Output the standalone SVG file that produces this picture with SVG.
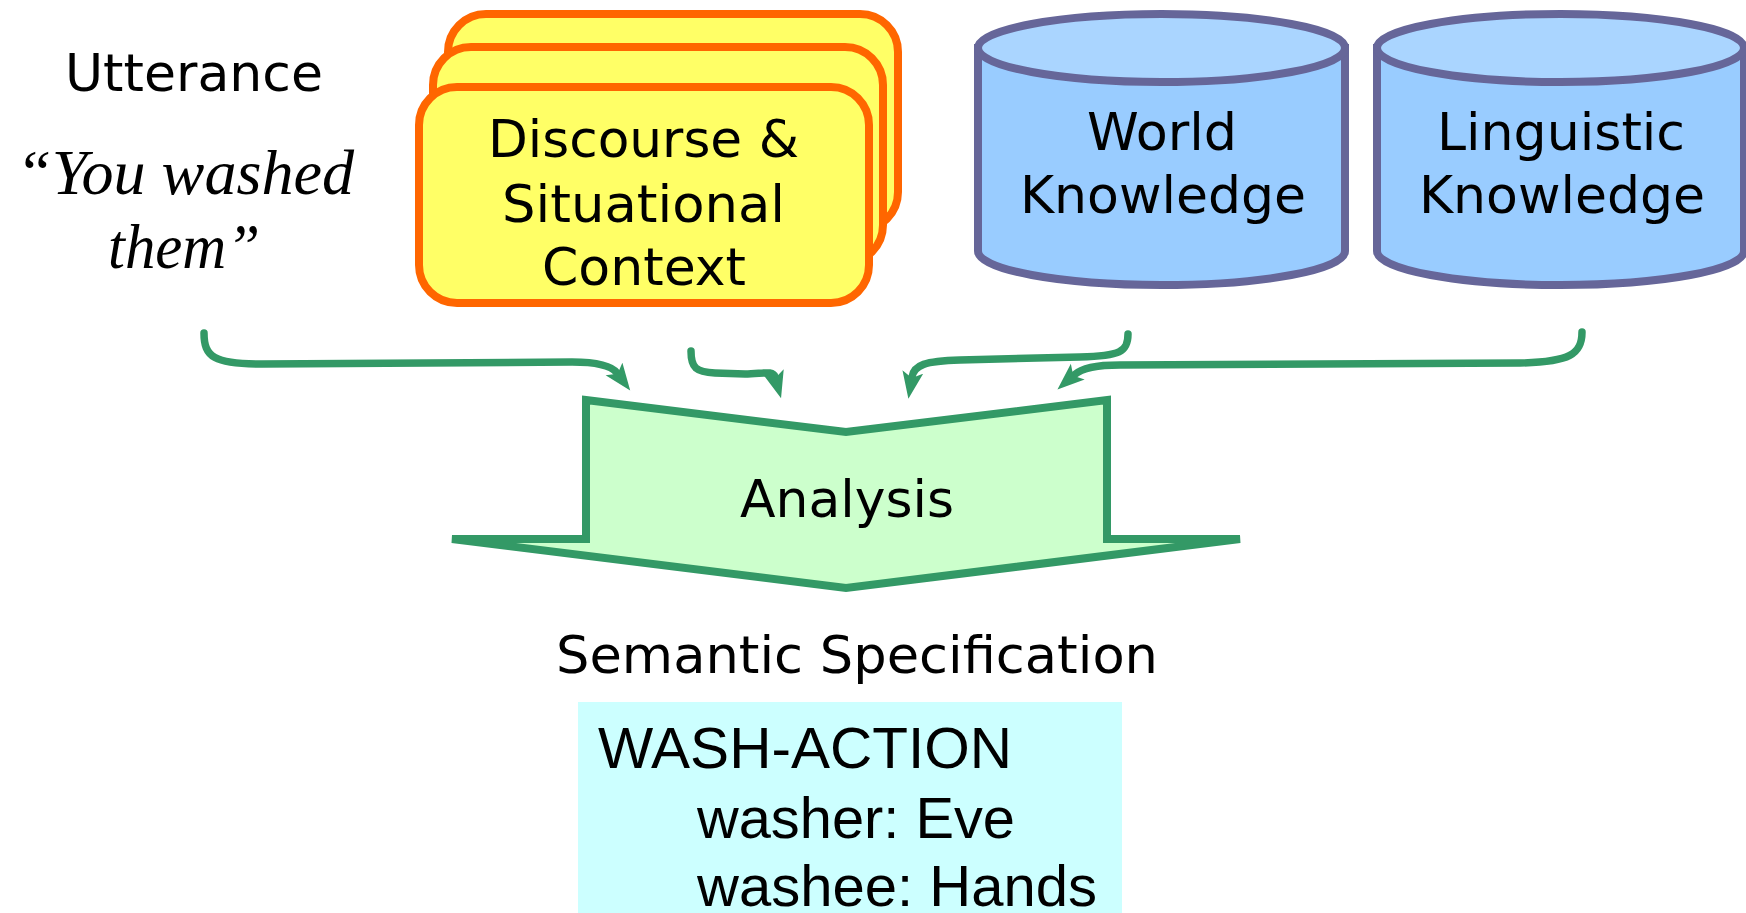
<svg xmlns="http://www.w3.org/2000/svg" width="1746" height="913" viewBox="0 0 1746 913">
  <style>
    .sans { font-family: "DejaVu Sans", Verdana, sans-serif; font-size: 52px; fill: #000; }
    .arial { font-family: "Liberation Sans", Arial, sans-serif; font-size: 58px; fill: #000; }
    .quote { font-family: "Liberation Serif", "Times New Roman", serif; font-style: italic; font-size: 64px; fill: #000; }
    .card { fill: #FFFF66; stroke: #FF6600; stroke-width: 8; }
    .cylbody { fill: #99CCFF; stroke: #666699; stroke-width: 8; }
    .cyltop { fill: #AAD5FF; stroke: #666699; stroke-width: 8; }
    .conn { fill: none; stroke: #339966; stroke-width: 7.5; stroke-linecap: round; }
  </style>
  <defs>
    <marker id="head" markerUnits="userSpaceOnUse" markerWidth="28" markerHeight="22" refX="5" refY="10.5" orient="auto" viewBox="0 0 28 22">
      <path d="M0,0 L27,10.5 L0,21 L6,10.5 Z" fill="#339966"/>
    </marker>
  </defs>
  <rect width="1746" height="913" fill="#FFFFFF"/>

  <g id="utterance">
    <text class="sans" x="65" y="91" textLength="258" lengthAdjust="spacingAndGlyphs">Utterance</text>
    <text class="quote" x="16" y="194" textLength="338" lengthAdjust="spacingAndGlyphs">“You washed</text>
    <text class="quote" x="108" y="268" textLength="152" lengthAdjust="spacingAndGlyphs">them”</text>
  </g>

  <g id="context">
    <rect class="card" x="448" y="14" width="450" height="216" rx="38" ry="38"/>
    <rect class="card" x="433" y="47" width="450" height="216" rx="38" ry="38"/>
    <rect class="card" x="419" y="87" width="450" height="216" rx="38" ry="38"/>
    <text class="sans" x="488" y="157" textLength="311" lengthAdjust="spacingAndGlyphs">Discourse &amp;</text>
    <text class="sans" x="502" y="222" textLength="283" lengthAdjust="spacingAndGlyphs">Situational</text>
    <text class="sans" x="542" y="285" textLength="204" lengthAdjust="spacingAndGlyphs">Context</text>
  </g>

  <g id="world-knowledge">
    <path class="cylbody" d="M978,48 V251 A183.5,34 0 0 0 1345,251 V48 Z"/>
    <ellipse class="cyltop" cx="1161.5" cy="48" rx="183.5" ry="34"/>
    <text class="sans" x="1087" y="150" textLength="150" lengthAdjust="spacingAndGlyphs">World</text>
    <text class="sans" x="1020" y="213" textLength="286" lengthAdjust="spacingAndGlyphs">Knowledge</text>
  </g>

  <g id="linguistic-knowledge">
    <path class="cylbody" d="M1377,48 V251 A183.5,34 0 0 0 1744,251 V48 Z"/>
    <ellipse class="cyltop" cx="1560.5" cy="48" rx="183.5" ry="34"/>
    <text class="sans" x="1437" y="150" textLength="248" lengthAdjust="spacingAndGlyphs">Linguistic</text>
    <text class="sans" x="1419" y="213" textLength="286" lengthAdjust="spacingAndGlyphs">Knowledge</text>
  </g>

  <g id="analysis">
    <path d="M586,400 L846,432 L1107,400 L1107,539 L1240,539 L846,588 L452,539 L586,539 Z" fill="#CCFFCC" stroke="#339966" stroke-width="8"/>
    <text class="sans" x="740" y="517" textLength="214" lengthAdjust="spacingAndGlyphs">Analysis</text>
  </g>

  <g id="semantic-specification">
    <text class="sans" x="556" y="673" textLength="602" lengthAdjust="spacingAndGlyphs">Semantic Specification</text>
    <rect x="578" y="702" width="544" height="215" fill="#CCFFFF"/>
    <text class="arial" x="598" y="768" textLength="414" lengthAdjust="spacingAndGlyphs">WASH-ACTION</text>
    <text class="arial" x="697" y="838" textLength="318" lengthAdjust="spacingAndGlyphs">washer: Eve</text>
    <text class="arial" x="697" y="906" textLength="400" lengthAdjust="spacingAndGlyphs">washee: Hands</text>
  </g>

  <g id="connectors">
    <path class="conn" marker-end="url(#head)" d="M204,333 C204,357 214,364 262,364 L572,362 C596,362 611,365 617,373"/>
    <path class="conn" marker-end="url(#head)" d="M691,351 C691,368 696,372 715,373 L745,374 C762,374 773,370 775,377"/>
    <path class="conn" marker-end="url(#head)" d="M1128,334 C1128,352 1120,356 1080,357 L960,360 C925,361 914,365 912,377"/>
    <path class="conn" marker-end="url(#head)" d="M1582,332 C1582,354 1570,362 1520,363 L1120,365 C1095,365 1082,368 1074,375"/>
  </g>
</svg>
